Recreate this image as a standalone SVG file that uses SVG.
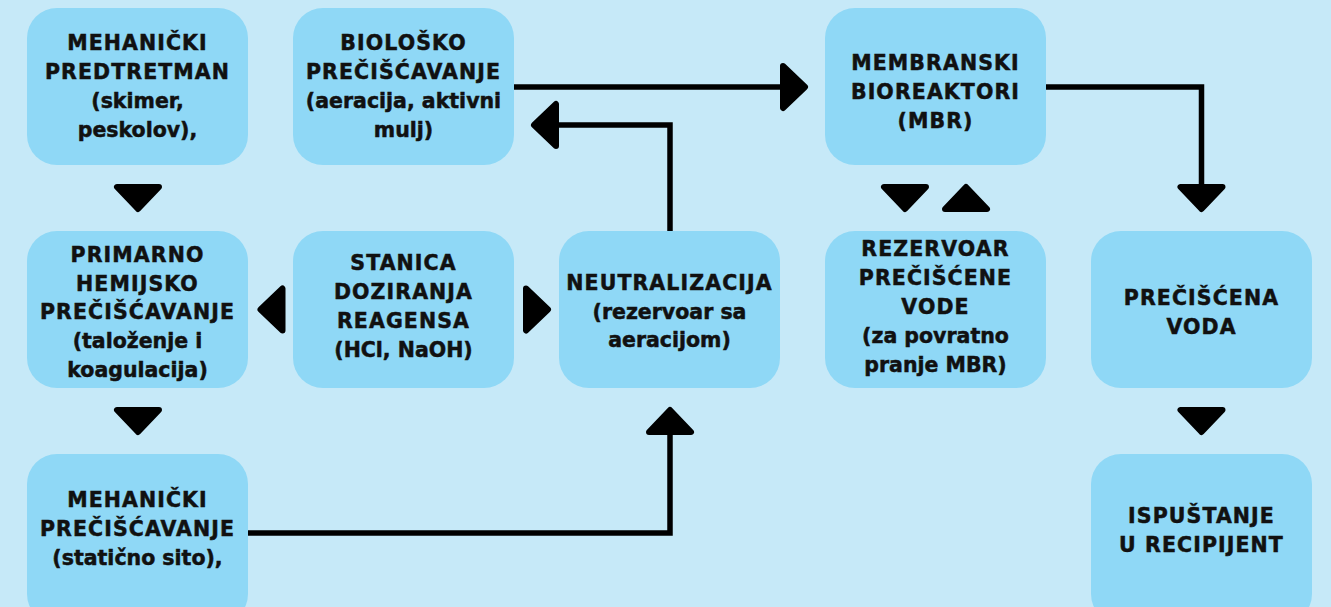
<svg xmlns="http://www.w3.org/2000/svg" xmlns:xlink="http://www.w3.org/1999/xlink" width="1331" height="607" viewBox="0 0 1331 607">
<style>
.bg{fill:#c6e9f8}
.box{fill:#8fd8f6}
.t{font-family:"DejaVu Sans","Liberation Sans",sans-serif;font-weight:bold;font-size:20.5px;fill:#111;stroke:#111;stroke-width:0.5;text-anchor:middle}
.c{letter-spacing:1.1px}
.ln{fill:none;stroke:#000;stroke-width:5.5;stroke-linejoin:miter}
.tri{fill:#000;stroke:#000;stroke-width:6;stroke-linejoin:round}
</style>
<defs>
<path id="tri" d="M-21,-11 L21,-11 L0,11 Z"/>
</defs>
<rect class="bg" x="0" y="0" width="1331" height="607"/>
<g id="n1"><rect class="box" x="27" y="8" width="221" height="157" rx="30"/>
<text class="t c" x="137.5" y="50">MEHANIČKI</text><text class="t c" x="137.5" y="79">PREDTRETMAN</text><text class="t" x="137.5" y="108">(skimer,</text><text class="t" x="137.5" y="137">peskolov),</text></g>
<g id="n2"><rect class="box" x="293" y="8" width="221" height="157" rx="30"/>
<text class="t c" x="403.5" y="50">BIOLOŠKO</text><text class="t c" x="403.5" y="79">PREČIŠĆAVANJE</text><text class="t" x="403.5" y="108">(aeracija, aktivni</text><text class="t" x="403.5" y="137">mulj)</text></g>
<g id="n3"><rect class="box" x="825" y="8" width="221" height="157" rx="30"/>
<text class="t c" x="935.5" y="70">MEMBRANSKI</text><text class="t c" x="935.5" y="99">BIOREAKTORI</text><text class="t c" x="935.5" y="128">(MBR)</text></g>
<g id="n4"><rect class="box" x="27" y="231" width="221" height="157" rx="30"/>
<text class="t c" x="137.5" y="262">PRIMARNO</text><text class="t c" x="137.5" y="291">HEMIJSKO</text><text class="t c" x="137.5" y="319">PREČIŠĆAVANJE</text><text class="t" x="137.5" y="348">(taloženje i</text><text class="t" x="137.5" y="377">koagulacija)</text></g>
<g id="n5"><rect class="box" x="293" y="231" width="221" height="157" rx="30"/>
<text class="t c" x="403.5" y="270">STANICA</text><text class="t c" x="403.5" y="299">DOZIRANJA</text><text class="t c" x="403.5" y="328">REAGENSA</text><text class="t" x="403.5" y="357">(HCl, NaOH)</text></g>
<g id="n6"><rect class="box" x="559" y="231" width="221" height="157" rx="30"/>
<text class="t c" x="669.5" y="290">NEUTRALIZACIJA</text><text class="t" x="669.5" y="319">(rezervoar sa</text><text class="t" x="669.5" y="347">aeracijom)</text></g>
<g id="n7"><rect class="box" x="825" y="231" width="221" height="157" rx="30"/>
<text class="t c" x="935.5" y="256">REZERVOAR</text><text class="t c" x="935.5" y="285">PREČIŠĆENE</text><text class="t c" x="935.5" y="314">VODE</text><text class="t" x="935.5" y="343">(za povratno</text><text class="t" x="935.5" y="372">pranje MBR)</text></g>
<g id="n8"><rect class="box" x="1091" y="231" width="221" height="157" rx="30"/>
<text class="t c" x="1201.5" y="305">PREČIŠĆENA</text><text class="t c" x="1201.5" y="334">VODA</text></g>
<g id="n9"><rect class="box" x="1091" y="454" width="221" height="170" rx="30"/>
<text class="t c" x="1201.5" y="523">ISPUŠTANJE</text><text class="t c" x="1201.5" y="552">U RECIPIJENT</text></g>
<g id="n10"><rect class="box" x="27" y="454" width="221" height="170" rx="30"/>
<text class="t c" x="137.5" y="507">MEHANIČKI</text><text class="t c" x="137.5" y="536">PREČIŠĆAVANJE</text><text class="t" x="137.5" y="565">(statično sito),</text></g>
<g id="connectors">
<path class="ln" d="M514,87 H786"/>
<path class="ln" d="M670,231 V125 H553"/>
<path class="ln" d="M1046,87 H1201.5 V190"/>
<path class="ln" d="M248,533 H670 V430"/>
<use class="tri" xlink:href="#tri" transform="translate(794,87) rotate(-90)"/>
<use class="tri" xlink:href="#tri" transform="translate(545,125) rotate(90)"/>
<use class="tri" xlink:href="#tri" transform="translate(1201.5,198)"/>
<use class="tri" xlink:href="#tri" transform="translate(670,421) rotate(180)"/>
<use class="tri" xlink:href="#tri" transform="translate(138,198)"/>
<use class="tri" xlink:href="#tri" transform="translate(138,421)"/>
<use class="tri" xlink:href="#tri" transform="translate(1201.5,421)"/>
<use class="tri" xlink:href="#tri" transform="translate(905,198)"/>
<use class="tri" xlink:href="#tri" transform="translate(966,198) rotate(180)"/>
<use class="tri" xlink:href="#tri" transform="translate(271.5,309.5) rotate(90)"/>
<use class="tri" xlink:href="#tri" transform="translate(537,309.5) rotate(-90)"/>
</g>
</svg>
